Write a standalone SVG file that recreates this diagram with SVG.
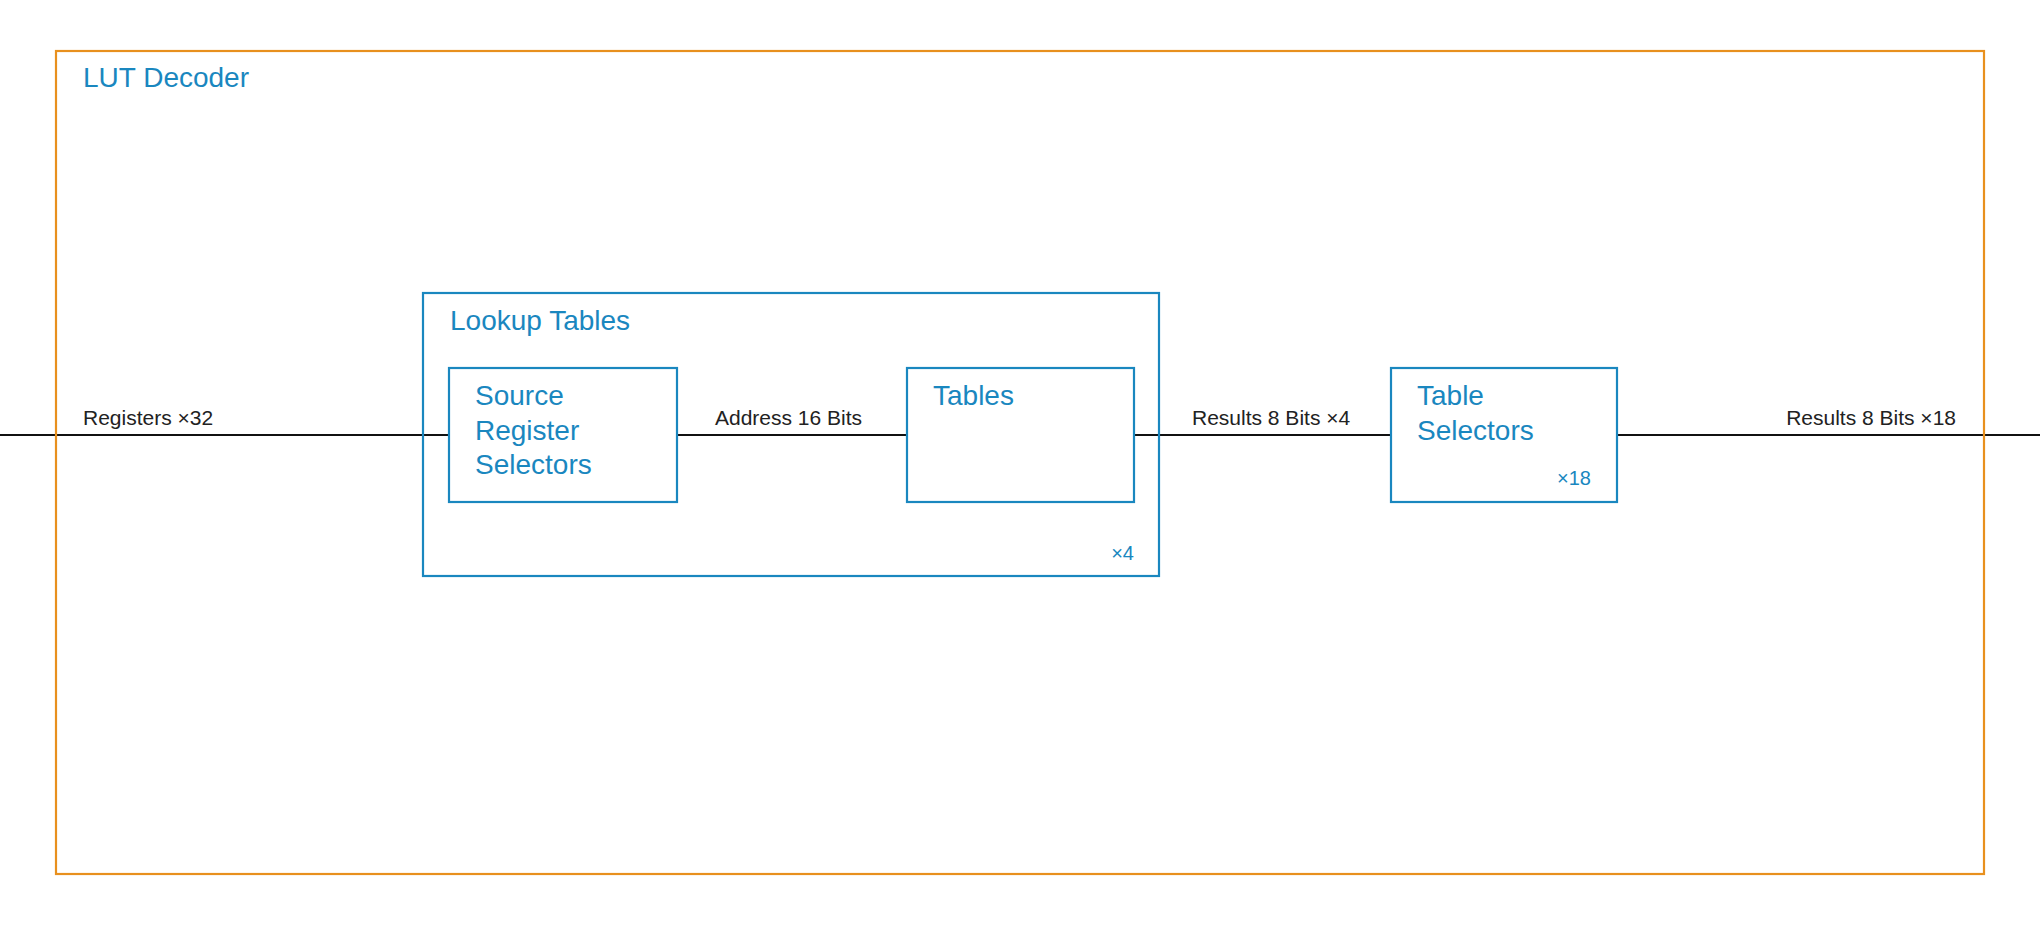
<svg xmlns="http://www.w3.org/2000/svg" width="2040" height="928" viewBox="0 0 2040 928">
<style>
.b{fill:none;stroke:#1a87bf;stroke-width:2.2}
.t{font-family:"Liberation Sans",Arial,sans-serif;fill:#1a87bf;font-size:28px}
.s{font-family:"Liberation Sans",Arial,sans-serif;fill:#222;font-size:21px}
.m{font-family:"Liberation Sans",Arial,sans-serif;fill:#1a87bf;font-size:20px;text-anchor:end}
.c{stroke:#111;stroke-width:2;fill:none}
</style>
<rect width="2040" height="928" fill="#fff"/>
<g id="connectors">
<line class="c" x1="0" y1="435" x2="449" y2="435"/>
<line class="c" x1="677" y1="435" x2="907" y2="435"/>
<line class="c" x1="1134" y1="435" x2="1391" y2="435"/>
<line class="c" x1="1617" y1="435" x2="2040" y2="435"/>
<text class="s" x="83" y="425">Registers ×32</text>
<text class="s" x="715" y="425">Address 16 Bits</text>
<text class="s" x="1192" y="425">Results 8 Bits ×4</text>
<text class="s" x="1956" y="425" text-anchor="end">Results 8 Bits ×18</text>
</g>
<g id="lut-decoder"><rect x="56" y="51" width="1928" height="823" fill="none" stroke="#e8901e" stroke-width="2.2"/><text class="t" x="83" y="87">LUT Decoder</text></g>
<g id="lookup-tables"><rect class="b" x="423" y="293" width="736" height="283"/><text class="t" x="450" y="330">Lookup Tables</text><text class="m" x="1134" y="560">×4</text></g>
<g id="source"><rect class="b" x="449" y="368" width="228" height="134" fill="#fff"/><text class="t" x="475" y="405">Source</text><text class="t" x="475" y="440">Register</text><text class="t" x="475" y="474">Selectors</text></g>
<g id="tables"><rect class="b" x="907" y="368" width="227" height="134"/><text class="t" x="933" y="405">Tables</text></g>
<g id="table-selectors"><rect class="b" x="1391" y="368" width="226" height="134"/><text class="t" x="1417" y="405">Table</text><text class="t" x="1417" y="440">Selectors</text><text class="m" x="1591" y="485">×18</text></g>
</svg>
